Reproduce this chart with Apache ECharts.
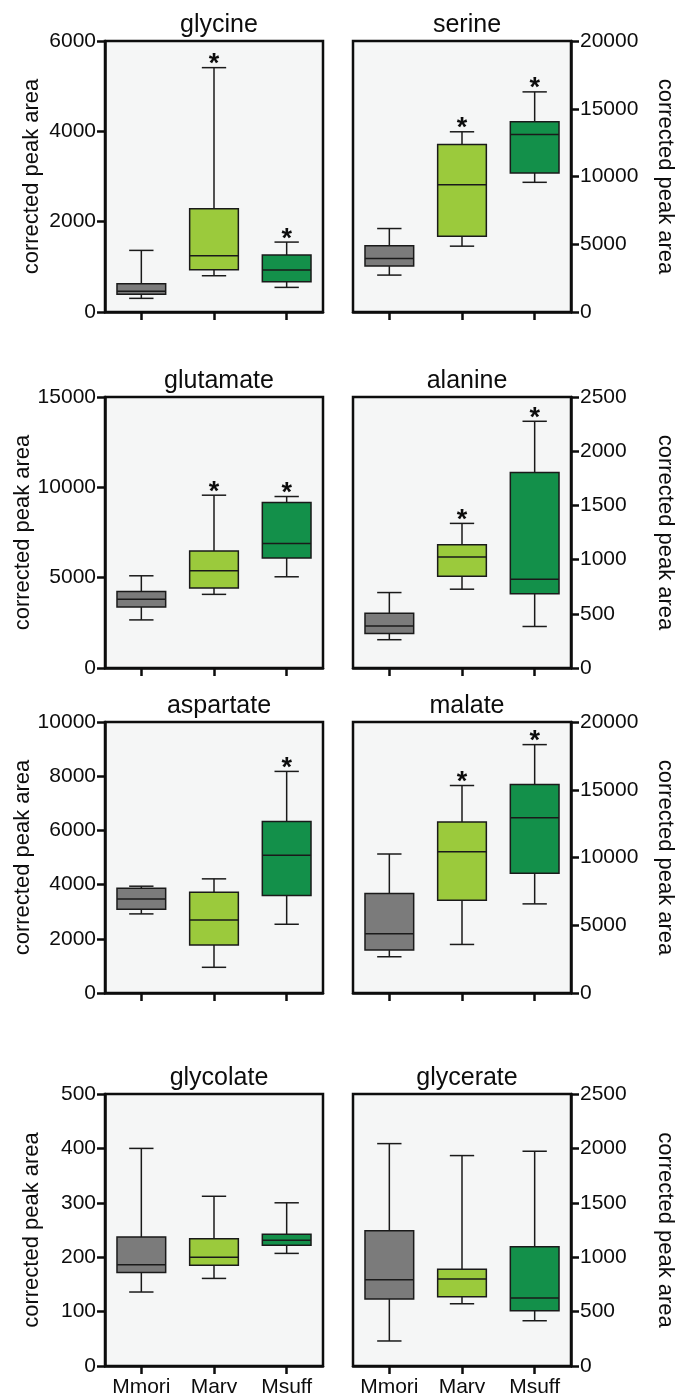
<!DOCTYPE html>
<html><head><meta charset="utf-8">
<script src="https://cdn.jsdelivr.net/npm/echarts@6/dist/echarts.min.js"></script>
<style>html,body{margin:0;padding:0;background:#fff}#c{width:679px;height:1398px}</style>
</head><body><div id="c"></div>
<script>
const categories = ['Mmori', 'Marv', 'Msuff'];
const panelTitles = ['glycine', 'serine', 'glutamate', 'alanine', 'aspartate', 'malate', 'glycolate', 'glycerate'];
const axisMax = [6000, 20000, 15000, 2500, 10000, 20000, 500, 2500];
const axisInterval = [2000, 5000, 5000, 500, 2000, 5000, 100, 500];
const yAxisName = 'corrected peak area';

// five-number summaries per category: [min, Q1, median, Q3, max]
const glycine   = [[302, 391, 457, 627, 1364], [803, 936, 1246, 2285, 5410], [545, 671, 929, 1260, 1548]];
const serine    = [[2724, 3387, 3951, 4883, 6160], [4859, 5595, 9399, 12368, 13300], [9571, 10258, 13104, 14037, 16245]];
const glutamate = [[2662, 3378, 3800, 4241, 5104], [4076, 4425, 5379, 6481, 9565], [5049, 6095, 6885, 9162, 9492]];
const alanine   = [[261, 319, 387, 506, 696], [727, 847, 1025, 1138, 1334], [383, 684, 819, 1804, 2276]];
const aspartate = [[2919, 3091, 3473, 3867, 3941], [948, 1773, 2697, 3719, 4212], [2537, 3596, 5086, 6330, 8177]];
const malate    = [[2675, 3166, 4368, 7337, 10258], [3583, 6847, 10429, 12613, 15313], [6577, 8834, 12933, 15387, 18331]];
const glycolate = [[136, 172, 186, 237, 400], [161, 185, 200, 234, 312], [207, 222, 231, 242, 300]];
const glycerate = [[230, 615, 793, 1242, 2044], [572, 636, 799, 890, 1934], [416, 508, 624, 1095, 1974]];

// significance asterisks (1 = shown above the upper whisker)
const glycineStars   = [0, 1, 1];
const serineStars    = [0, 1, 1];
const glutamateStars = [0, 1, 1];
const alanineStars   = [0, 1, 1];
const aspartateStars = [0, 0, 1];
const malateStars    = [0, 1, 1];
const glycolateStars = [0, 0, 0];
const glycerateStars = [0, 0, 0];

const panelData  = [glycine, serine, glutamate, alanine, aspartate, malate, glycolate, glycerate];
const panelStars = [glycineStars, serineStars, glutamateStars, alanineStars, aspartateStars, malateStars, glycolateStars, glycerateStars];

const boxColors = ['#7b7b7b', '#9bca3c', '#13904a'];
const FONT = '"Liberation Sans", Arial, Helvetica, sans-serif';
const INK = '#0d0d0d';

const colLeft = [105, 353];
const rowTop = [41, 397, 722, 1094];
const rowHeight = [271, 271, 271, 273];
const gridWidth = 218;

function renderBox(params, api) {
  const ci = api.value(0);
  const vMin = api.value(1), vQ1 = api.value(2), vMed = api.value(3), vQ3 = api.value(4), vMax = api.value(5);
  const star = api.value(6);
  const band = api.size([1, 0])[0];
  const bw = band * 0.67;
  const cw = bw * 0.5;
  const x = api.coord([ci, vMin])[0];
  const yMin = api.coord([ci, vMin])[1];
  const yQ1 = api.coord([ci, vQ1])[1];
  const yMed = api.coord([ci, vMed])[1];
  const yQ3 = api.coord([ci, vQ3])[1];
  const yMax = api.coord([ci, vMax])[1];
  const ls = { stroke: '#1a1a1a', lineWidth: 1.5 };
  const children = [
    { type: 'line', shape: { x1: x, y1: yQ1, x2: x, y2: yMin }, style: ls },
    { type: 'line', shape: { x1: x, y1: yQ3, x2: x, y2: yMax }, style: ls },
    { type: 'line', shape: { x1: x - cw / 2, y1: yMin, x2: x + cw / 2, y2: yMin }, style: ls },
    { type: 'line', shape: { x1: x - cw / 2, y1: yMax, x2: x + cw / 2, y2: yMax }, style: ls },
    { type: 'rect', shape: { x: x - bw / 2, y: yQ3, width: bw, height: yQ1 - yQ3 },
      style: { fill: boxColors[ci], stroke: '#1a1a1a', lineWidth: 1.5 } },
    { type: 'line', shape: { x1: x - bw / 2, y1: yMed, x2: x + bw / 2, y2: yMed }, style: ls }
  ];
  if (star) {
    children.push({ type: 'text', x: x, y: yMax - 3,
      style: { text: '*', fill: INK, font: 'bold 27px ' + FONT, textAlign: 'center', textVerticalAlign: 'middle' } });
  }
  return { type: 'group', children: children };
}

const grids = [], xAxes = [], yAxes = [], series = [], titles = [];
for (let p = 0; p < 8; p++) {
  const col = p % 2, row = Math.floor(p / 2);
  const isBottom = row === 3;
  grids.push({ left: colLeft[col], top: rowTop[row], width: gridWidth, height: rowHeight[row],
    show: true, backgroundColor: '#f5f6f6', borderColor: INK, borderWidth: 2.5 });
  xAxes.push({ type: 'category', gridIndex: p, data: categories, boundaryGap: true,
    axisLine: { show: true, lineStyle: { color: INK, width: 2.5 } },
    axisTick: { show: true, alignWithLabel: true, length: 8, lineStyle: { color: INK, width: 2.5 } },
    axisLabel: { show: isBottom, interval: 0, color: INK, fontSize: 21, fontFamily: FONT, margin: 11 },
    splitLine: { show: false } });
  yAxes.push({ type: 'value', gridIndex: p, min: 0, max: axisMax[p], interval: axisInterval[p],
    position: col === 0 ? 'left' : 'right',
    name: yAxisName, nameLocation: 'middle', nameRotate: col === 0 ? 90 : -90,
    nameGap: col === 0 ? 62 : 83,
    nameTextStyle: { color: INK, fontSize: 22, fontFamily: FONT },
    axisLine: { show: true, lineStyle: { color: INK, width: 2.5 } },
    axisTick: { show: true, length: 8, lineStyle: { color: INK, width: 2.5 } },
    axisLabel: { color: INK, fontSize: 21, fontFamily: FONT, margin: 9, formatter: v => String(v) },
    splitLine: { show: false } });
  series.push({ type: 'custom', xAxisIndex: p, yAxisIndex: p, renderItem: renderBox,
    encode: { x: 0, y: [1, 2, 3, 4, 5] }, clip: false,
    data: panelData[p].map((d, i) => [i].concat(d, [panelStars[p][i]])) });
  titles.push({ text: panelTitles[p], left: colLeft[col] + gridWidth / 2, top: rowTop[row] - 33,
    textAlign: 'center', textStyle: { color: INK, fontSize: 25, fontWeight: 'normal', fontFamily: FONT } });
}

const chart = echarts.init(document.getElementById('c'), null, { renderer: 'canvas' });
chart.setOption({ animation: false, backgroundColor: '#fff', title: titles, grid: grids, xAxis: xAxes, yAxis: yAxes, series: series });
</script></body></html>
